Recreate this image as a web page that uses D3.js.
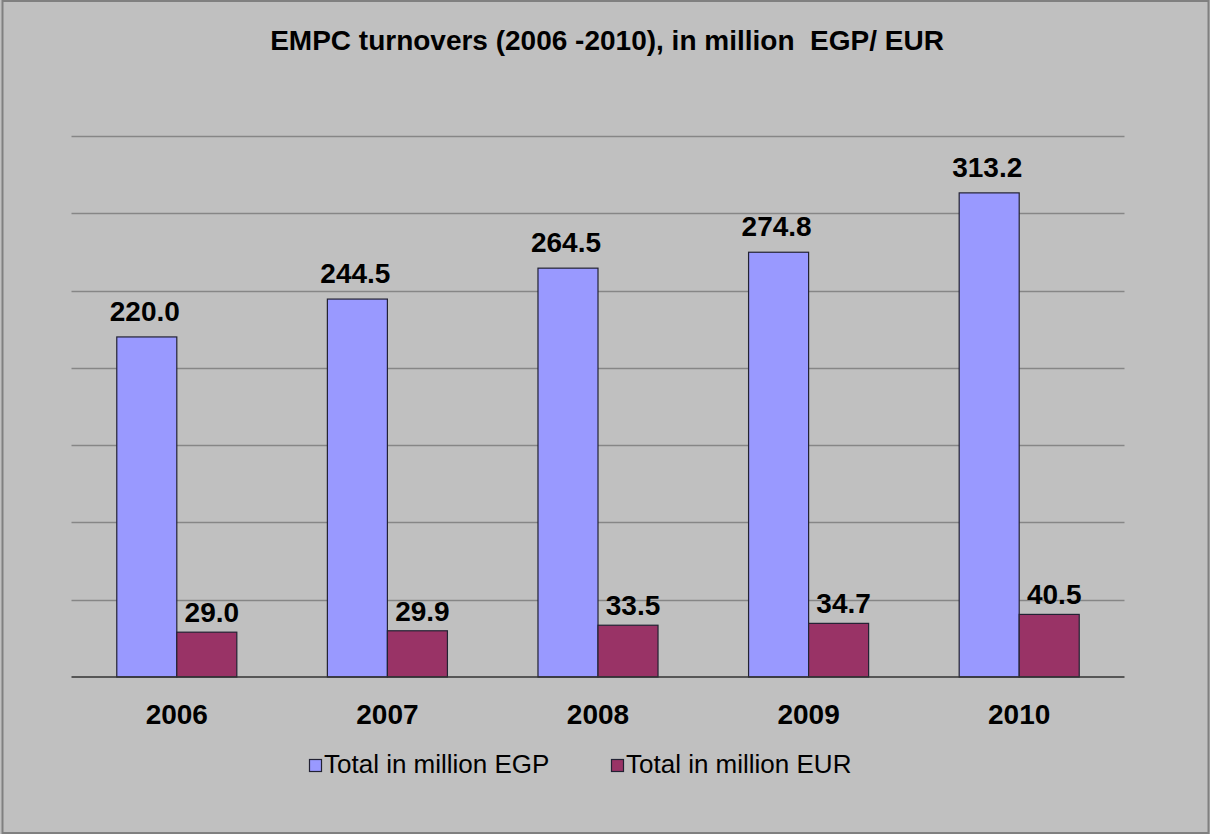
<!DOCTYPE html>
<html>
<head>
<meta charset="utf-8">
<script src="https://cdn.jsdelivr.net/npm/d3@7"></script>
<style>
  body { margin: 0; background: #ffffff; }
  svg { display: block; }
  text { font-family: "Liberation Sans", Arial, sans-serif; }
</style>
</head>
<body>
<div id="chart"></div>
<script>
let chart_width = 1210;
let chart_height = 834;

let years = ['2006', '2007', '2008', '2009', '2010'];
let egp_values = [220.0, 244.5, 264.5, 274.8, 313.2];
let eur_values = [29.0, 29.9, 33.5, 34.7, 40.5];
let series_names = ['Total in million EGP', 'Total in million EUR'];
let grid_ticks = [0, 50, 100, 150, 200, 250, 300, 350];
let title_text = 'EMPC turnovers (2006 -2010), in million  EGP/ EUR';

let colors = ['#9999FF', '#993366'];

let plot = {left: 71.5, right: 1124.5, top: 136, bottom: 677};

let svg = d3.select('#chart')
    .append('svg')
    .attr('width', chart_width)
    .attr('height', chart_height);

// background + frame
svg.append('rect')
    .attr('x', 0).attr('y', 0)
    .attr('width', chart_width).attr('height', chart_height)
    .attr('fill', '#C0C0C0');

svg.append('rect')
    .attr('x', 2.5).attr('y', 1)
    .attr('width', chart_width - 4).attr('height', chart_height - 2)
    .attr('fill', 'none')
    .attr('stroke', '#808080')
    .attr('stroke-width', 2);

let xScale = d3.scaleBand()
    .domain(years)
    .range([plot.left, plot.right])
    .paddingInner(0.43)
    .paddingOuter(0.215);

let subScale = d3.scaleBand()
    .domain([0, 1])
    .range([0, xScale.bandwidth()]);

let yScale = d3.scaleLinear()
    .domain([0, 350])
    .range([plot.bottom, plot.top]);

// gridlines
svg.append('g')
    .attr('class', 'grid')
    .selectAll('line')
    .data(grid_ticks.slice(1))
    .enter()
    .append('line')
    .attr('x1', plot.left)
    .attr('x2', plot.right)
    .attr('y1', d => Math.round(yScale(d)) + 0.5)
    .attr('y2', d => Math.round(yScale(d)) + 0.5)
    .attr('stroke', '#868686')
    .attr('stroke-width', 1.5);

// bars
let rows = years.map((y, i) => ({year: y, vals: [egp_values[i], eur_values[i]]}));

let groups = svg.append('g')
    .selectAll('g')
    .data(rows)
    .enter()
    .append('g')
    .attr('transform', d => 'translate(' + xScale(d.year) + ',0)');

groups.selectAll('rect')
    .data(d => d.vals.map((v, k) => ({k: k, v: v})))
    .enter()
    .append('rect')
    .attr('x', d => subScale(d.k))
    .attr('y', d => yScale(d.v))
    .attr('width', subScale.bandwidth())
    .attr('height', d => yScale(0) - yScale(d.v))
    .attr('fill', d => colors[d.k])
    .attr('stroke', '#222233')
    .attr('stroke-width', 1.2);

groups.selectAll('text')
    .data(d => d.vals.map((v, k) => ({k: k, v: v})))
    .enter()
    .append('text')
    .text(d => d.v.toFixed(1))
    .attr('x', d => subScale(d.k) + subScale.bandwidth() / 2 + (d.k === 1 ? 5 : -2))
    .attr('y', d => yScale(d.v) - (d.k === 0 ? 16 : 10))
    .attr('text-anchor', 'middle')
    .attr('fill', '#000')
    .style('font-size', '28px')
    .style('font-weight', 'bold');

// baseline
svg.append('line')
    .attr('x1', plot.left)
    .attr('x2', plot.right)
    .attr('y1', yScale(0))
    .attr('y2', yScale(0))
    .attr('stroke', '#333333')
    .attr('stroke-width', 1.5);

// category labels
svg.append('g')
    .selectAll('text')
    .data(years)
    .enter()
    .append('text')
    .text(d => d)
    .attr('x', d => xScale(d) + xScale.bandwidth() / 2)
    .attr('y', 724)
    .attr('text-anchor', 'middle')
    .style('font-size', '28px')
    .style('font-weight', 'bold');

// title
svg.append('text')
    .text(title_text)
    .attr('x', 607)
    .attr('y', 50)
    .attr('text-anchor', 'middle')
    .style('white-space', 'pre')
    .style('font-size', '28px')
    .style('font-weight', 'bold');

// legend
let legend_x = [309, 611];
let legend = svg.append('g')
    .selectAll('g')
    .data(series_names)
    .enter()
    .append('g')
    .attr('transform', (d, i) => 'translate(' + legend_x[i] + ',759)');

legend.append('rect')
    .attr('x', 0.5).attr('y', 0.5)
    .attr('width', 12).attr('height', 12)
    .attr('fill', (d, i) => colors[i])
    .attr('stroke', '#222233')
    .attr('stroke-width', 1.2);

legend.append('text')
    .text(d => d)
    .attr('x', 15)
    .attr('y', 14)
    .style('font-size', '26px');
</script>
</body>
</html>
